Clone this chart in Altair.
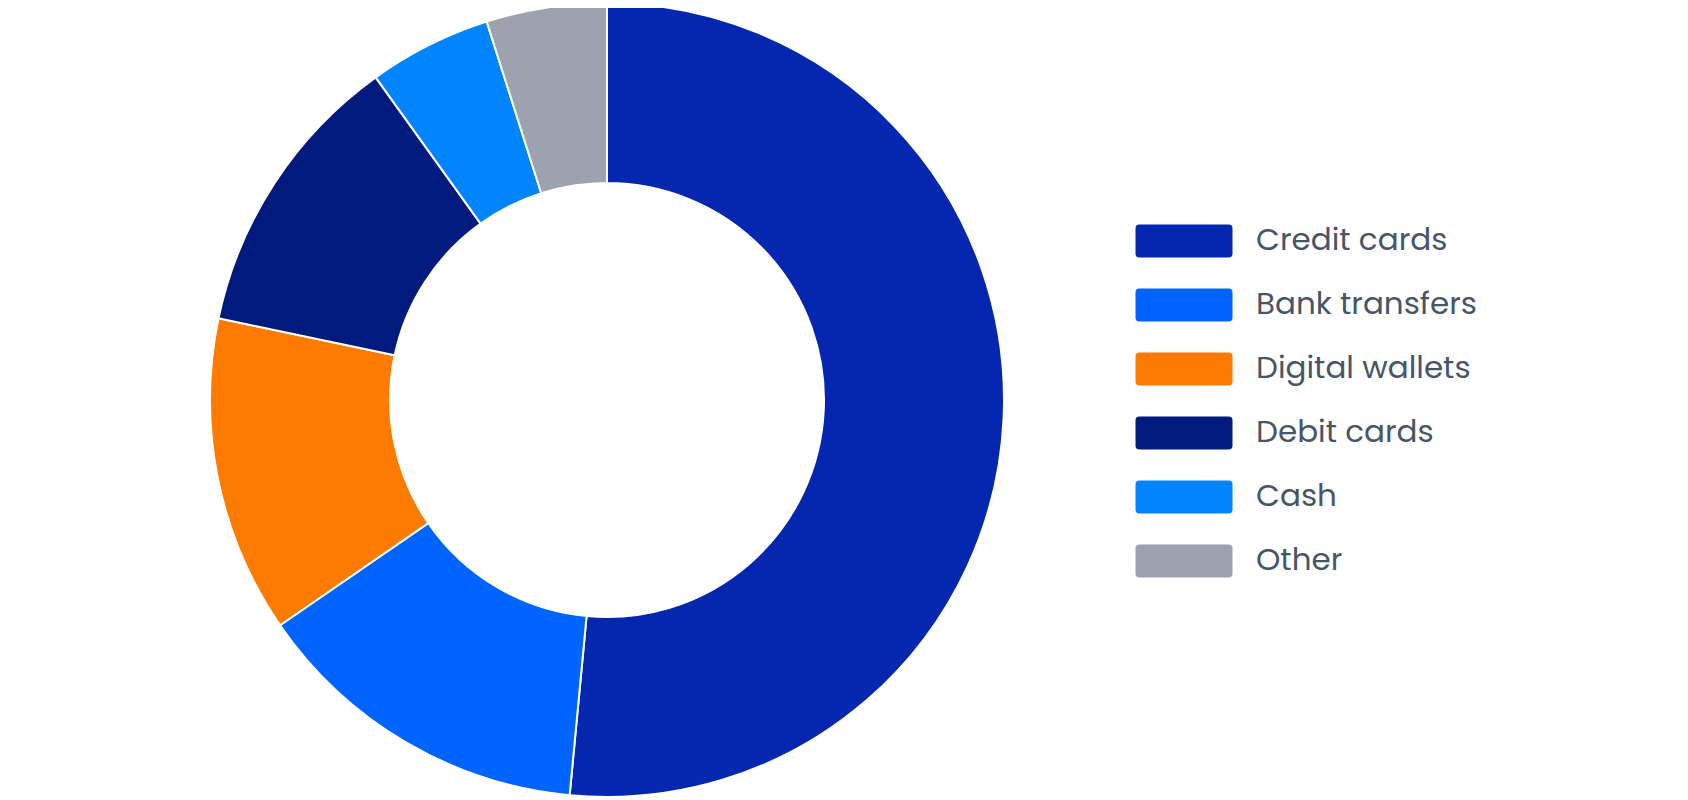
import altair as alt
import pandas as pd

categories = ["Credit cards", "Bank transfers", "Digital wallets", "Debit cards", "Cash", "Other"]
values = [51.5, 13.9, 12.9, 11.8, 5.0, 4.9]
colors = ["#0527B0", "#0064FF", "#FF7B00", "#001A7D", "#0084FF", "#9EA1AE"]

df = pd.DataFrame({"category": categories, "value": values, "order": list(range(len(categories)))})

sym = ("M -2.225 -0.825 H 2.225 Q 2.425 -0.825 2.425 -0.625 V 0.625 Q 2.425 0.825 2.225 0.825 "
       "H -2.225 Q -2.425 0.825 -2.425 0.625 V -0.625 Q -2.425 -0.825 -2.225 -0.825 Z")

chart = alt.Chart(df).mark_arc(
    outerRadius=397, innerRadius=217, stroke="white", strokeWidth=2
).encode(
    theta=alt.Theta("value:Q", stack=True),
    order=alt.Order("order:Q"),
    color=alt.Color(
        "category:N",
        scale=alt.Scale(domain=categories, range=colors),
        sort=categories,
        legend=alt.Legend(
            title=None,
            orient="none",
            legendX=1156,
            legendY=213,
            symbolType=sym,
            symbolSize=1600,
            symbolStrokeWidth=0,
            symbolOpacity=1,
            labelFont="Poppins, Open Sans, sans-serif",
            labelFontSize=31,
            labelColor="#475569",
            labelOffset=52,
            rowPadding=27,
            padding=0,
            labelLimit=400,
        ),
    ),
    x=alt.value(599),
    y=alt.value(392),
).properties(
    width=1660, height=789, padding=0, autosize="none"
).configure_view(stroke=None)

chart.save("out.html", embed_options={"renderer": "svg", "actions": False})
